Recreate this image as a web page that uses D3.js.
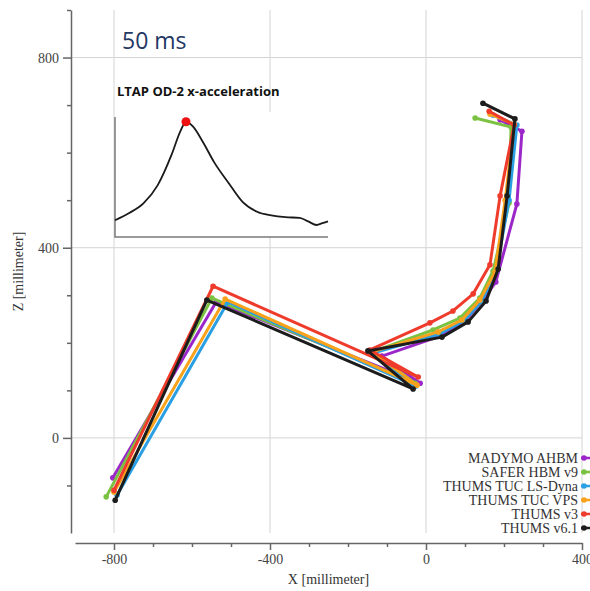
<!DOCTYPE html>
<html>
<head>
<meta charset="utf-8">
<script src="https://cdn.jsdelivr.net/npm/d3@7"></script>
<style>
  body { margin: 0; background: #fff; }
</style>
</head>
<body>
<div id="chart"></div>
<script>
// Body outline points (mm): ankle, knee, hip, pelvis, spine x5, neck, head
const seriesNames = ["MADYMO AHBM", "SAFER HBM v9", "THUMS TUC LS-Dyna", "THUMS TUC VPS", "THUMS v3", "THUMS v6.1"];

const madymoX = [-803, -538, -15, -113, 36, 100, 146, 179, 233, 246, 190];
const madymoZ = [-84, 286, 115, 172, 214, 246, 290, 328, 492, 645, 669];

const saferX = [-820, -549, -28, -138, 18, 87, 138, 172, 213, 218, 126];
const saferZ = [-124, 294, 115, 181, 227, 252, 294, 351, 494, 654, 673];

const lsDynaX = [-792, -508, -26, -138, 33, 97, 143, 179, 213, 233, 172];
const lsDynaZ = [-120, 286, 109, 178, 218, 246, 288, 349, 500, 658, 679];

const vpsX = [-800, -515, -23, -138, 31, 92, 138, 177, 203, 226, 164];
const vpsZ = [-114, 292, 111, 181, 223, 248, 290, 349, 500, 660, 681];

const v3X = [-800, -546, -20, -144, 10, 69, 121, 164, 190, 226, 162];
const v3Z = [-110, 319, 128, 185, 242, 267, 303, 364, 509, 658, 687];

const v61X = [-797, -562, -33, -149, 41, 108, 154, 185, 208, 228, 146];
const v61Z = [-131, 290, 103, 183, 212, 244, 288, 355, 509, 671, 704];

// Inset: x-acceleration pulse (ms, normalised)
const insetTime = [0, 10, 20, 30, 40, 46, 50, 55, 62, 70, 80, 90, 100, 110, 120, 130, 136, 142, 146, 150];
const insetAccel = [0.14, 0.2, 0.28, 0.43, 0.69, 0.88, 0.96, 0.92, 0.79, 0.62, 0.45, 0.29, 0.21, 0.18, 0.165, 0.16, 0.13, 0.1, 0.115, 0.13];
const currentTime = 50;

const xMajorTicks = [-800, -400, 0, 400];
const yMajorTicks = [0, 400, 800];

const colors = ["#9b27c9", "#7cc242", "#2a9fe3", "#f8a21c", "#ef3b2c", "#1c1c1c"];

const seriesX = [madymoX, saferX, lsDynaX, vpsX, v3X, v61X];
const seriesZ = [madymoZ, saferZ, lsDynaZ, vpsZ, v3Z, v61Z];
const series = seriesNames.map((name, i) => ({
    name,
    color: colors[i],
    points: seriesX[i].map((x, j) => ({ x, z: seriesZ[i][j] }))
}));

const W = 590, H = 591;
const svg = d3.select("#chart").append("svg")
    .attr("width", W)
    .attr("height", H);

const x = d3.scaleLinear().domain([-900, 400]).range([75, 582]);
const y = d3.scaleLinear().domain([-200, 900]).range([533, 10]);

const serif = "'Liberation Serif', 'DejaVu Serif', serif";

// Grid
const grid = svg.append("g").attr("stroke", "#d4d4d4").attr("stroke-width", 1);
grid.selectAll(".gx").data(xMajorTicks).enter().append("line")
    .attr("x1", d => x(d)).attr("x2", d => x(d))
    .attr("y1", y(900)).attr("y2", y(-200));
grid.selectAll(".gy").data(yMajorTicks).enter().append("line")
    .attr("x1", 72).attr("x2", x(400))
    .attr("y1", d => y(d)).attr("y2", d => y(d));

// Axes
const xMinor = d3.range(-800, 401, 100).filter(d => !xMajorTicks.includes(d));
const yMinor = d3.range(-100, 901, 100).filter(d => !yMajorTicks.includes(d));
const plainFormat = d => String(d);

function styleAxis(g) {
    g.selectAll("path, line").attr("stroke", "#666").attr("stroke-width", 1.5);
    g.selectAll("text").attr("fill", "#444").style("font-family", serif).style("font-size", "14px");
}

svg.append("g")
    .attr("transform", "translate(0,543)")
    .call(d3.axisBottom(x).tickValues(xMinor).tickSize(4).tickSizeOuter(0).tickFormat(""))
    .call(styleAxis);
svg.append("g")
    .attr("transform", "translate(0,543)")
    .call(d3.axisBottom(x).tickValues(xMajorTicks).tickSize(7).tickSizeOuter(0).tickPadding(4).tickFormat(plainFormat))
    .call(styleAxis)
    .call(g => g.select(".domain").remove());

svg.append("g")
    .attr("transform", "translate(71,0)")
    .call(d3.axisLeft(y).tickValues(yMinor).tickSize(4).tickSizeOuter(0).tickFormat(""))
    .call(styleAxis);
svg.append("g")
    .attr("transform", "translate(71,0)")
    .call(d3.axisLeft(y).tickValues(yMajorTicks).tickSize(8).tickSizeOuter(0).tickPadding(4).tickFormat(plainFormat))
    .call(styleAxis)
    .call(g => g.select(".domain").remove());

// Axis titles
svg.append("text")
    .attr("x", (x.range()[0] + x.range()[1]) / 2)
    .attr("y", 584)
    .attr("text-anchor", "middle")
    .style("font-family", serif)
    .style("font-size", "14px")
    .attr("fill", "#333")
    .text("X [millimeter]");
svg.append("text")
    .attr("transform", `translate(23,${(y.range()[0] + y.range()[1]) / 2}) rotate(-90)`)
    .attr("text-anchor", "middle")
    .style("font-family", serif)
    .style("font-size", "14px")
    .attr("fill", "#333")
    .text("Z [millimeter]");

// Body lines
const line = d3.line().x(d => x(d.x)).y(d => y(d.z));
const sg = svg.selectAll(".series").data(series).enter().append("g");
sg.append("path")
    .attr("d", d => line(d.points))
    .attr("fill", "none")
    .attr("stroke", d => d.color)
    .attr("stroke-width", 3)
    .attr("stroke-linejoin", "round");
sg.selectAll("circle")
    .data(d => d.points.map(p => ({ ...p, color: d.color })))
    .enter().append("circle")
    .attr("cx", d => x(d.x))
    .attr("cy", d => y(d.z))
    .attr("r", 2.8)
    .attr("fill", d => d.color);

// Legend
const legend = svg.append("g");
series.forEach((s, i) => {
    const cy = 458 + i * 14;
    legend.append("text")
        .attr("x", 578)
        .attr("y", cy + 5)
        .attr("text-anchor", "end")
        .style("font-family", serif)
        .style("font-size", "14px")
        .attr("fill", "#333")
        .text(s.name);
    legend.append("line")
        .attr("x1", 581).attr("x2", 592)
        .attr("y1", cy).attr("y2", cy)
        .attr("stroke", s.color).attr("stroke-width", 2.5);
    legend.append("circle")
        .attr("cx", 584).attr("cy", cy).attr("r", 2.8)
        .attr("fill", s.color);
});

// Time label
svg.append("text")
    .attr("x", 122)
    .attr("y", 49)
    .style("font-family", "'Open Sans', 'Noto Sans', sans-serif")
    .style("font-size", "23px")
    .attr("fill", "#1f3864")
    .text(currentTime + " ms");

// Inset pulse chart
const ix = d3.scaleLinear().domain([0, 150]).range([115, 328]);
const iy = d3.scaleLinear().domain([0, 1]).range([237, 117]);

svg.append("rect")
    .attr("x", ix(0) + 1).attr("y", iy(1) - 5)
    .attr("width", ix(150) - ix(0) + 2).attr("height", iy(0) - iy(1) + 4)
    .attr("fill", "#fff");

svg.append("text")
    .attr("x", 117)
    .attr("y", 96)
    .style("font-family", "'Open Sans', 'Noto Sans', sans-serif")
    .style("font-weight", "bold")
    .style("font-size", "13px")
    .attr("fill", "#111")
    .text("LTAP OD-2 x-acceleration");

svg.append("path")
    .attr("d", `M${ix(0)},${iy(1)}V${iy(0)}H${ix(150)}`)
    .attr("fill", "none")
    .attr("stroke", "#7a7a7a")
    .attr("stroke-width", 1.5);

const insetData = insetTime.map((t, i) => ({ t, a: insetAccel[i] }));
svg.append("path")
    .datum(insetData)
    .attr("d", d3.line().x(d => ix(d.t)).y(d => iy(d.a)).curve(d3.curveMonotoneX))
    .attr("fill", "none")
    .attr("stroke", "#1a1a1a")
    .attr("stroke-width", 1.8);

const cur = insetData.find(d => d.t === currentTime);
svg.append("circle")
    .attr("cx", ix(cur.t)).attr("cy", iy(cur.a))
    .attr("r", 4.5)
    .attr("fill", "#ee1111");
</script>
</body>
</html>
